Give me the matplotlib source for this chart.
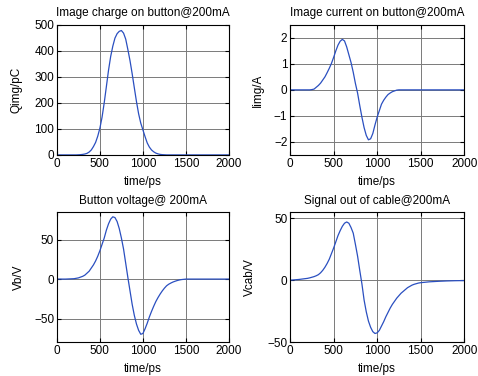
# Four panels: image charge, image current, button voltage and cable signal.
import matplotlib
matplotlib.use('Agg')
import matplotlib.pyplot as plt

# time axis, ps: 25 ps steps where the pulse is, 100 ps elsewhere
t = [0, 100] + list(range(200, 1500, 25)) + list(range(1500, 2001, 100))

q_img = [0, 0,
         0, 0, 0.5, 1, 2, 3.5, 6, 11, 19, 32, 48, 72,
         103, 145, 200, 262, 325, 378, 418, 449, 466, 475, 478, 468,
         445, 405, 362, 312, 258, 205, 158, 122, 96, 70, 46, 30,
         19, 12, 7, 4, 2, 1, 0.5, 0, 0, 0, 0, 0,
         0, 0, 0, 0,
         0, 0, 0, 0, 0, 0]

i_img = [0, 0,
         0, 0, 0.01, 0.03, 0.1, 0.17, 0.26, 0.38, 0.5, 0.66, 0.83, 1.02,
         1.25, 1.5, 1.72, 1.87, 1.94, 1.88, 1.65, 1.35, 1.05, 0.68, 0.25, -0.12,
         -0.6, -1.05, -1.45, -1.75, -1.92, -1.88, -1.68, -1.35, -1.05, -0.8, -0.55, -0.4,
         -0.28, -0.18, -0.12, -0.07, -0.04, -0.01, 0, 0, 0, 0, 0, 0,
         0, 0, 0, 0,
         0, 0, 0, 0, 0, 0]

v_b = [0, 0,
       0.5, 1, 1.5, 2.5, 3.5, 5, 7.5, 10, 14, 18, 23, 29,
       36, 44, 52, 62, 70, 76, 79, 78, 73, 64, 52, 38,
       20, 2, -15, -32, -46, -57, -65, -70, -69, -63, -56, -48,
       -41, -34.5, -28.5, -23.5, -19, -15, -11.5, -8.5, -6.5, -5, -3.7, -2.7,
       -1.8, -1.1, -0.6, -0.3,
       0, 0, 0, 0, 0, 0]

v_cab = [0, 0.6,
         1.5, 1.9, 2.4, 2.9, 3.6, 4.5, 6, 8, 10.5, 13.5, 17, 21.5,
         26, 31, 36, 40, 43.5, 46, 47, 46, 42.5, 38, 29, 19.5,
         8, -3, -16, -25.5, -33, -38, -41.5, -43, -42.5, -40.5, -37, -33.5,
         -29.5, -26, -22.5, -19.5, -17, -14.5, -12.5, -10.5, -9, -7.5, -6, -5,
         -4, -3.3, -2.8, -2.3,
         -2, -1.3, -0.9, -0.6, -0.4, -0.3]

titles = ['Image charge on button@200mA', 'Image current on button@200mA',
          'Button voltage@ 200mA', 'Signal out of cable@200mA']
ylabels = ['Qimg/pC', 'Iimg/A', 'Vb/V', 'Vcab/V']
ylims = [(0, 500), (-2.5, 2.5), (-80, 85), (-50, 55)]
yticks = [[0, 100, 200, 300, 400, 500], [-2, -1, 0, 1, 2], [-50, 0, 50], [-50, 0, 50]]
xticks = [0, 500, 1000, 1500, 2000]


def draw_panel(ax, y, title, ylabel, ylim, yt, ylab_x):
    ax.plot(t, y, color='#2a4fc0', lw=0.9)
    ax.set_xlim(0, 2000)
    ax.set_ylim(*ylim)
    ax.set_xticks(xticks)
    ax.set_yticks(yt)
    ax.set_title(title, fontsize=8.5, pad=6)
    ax.set_xlabel('time/ps', fontsize=8.5, labelpad=4.5)
    ax.set_ylabel(ylabel, fontsize=8.5)
    # MATLAB puts the y label just left of the widest tick label
    ax.yaxis.set_label_coords(ylab_x, 0.5)
    ax.grid(True, color='#7a7a7a', lw=0.7)
    ax.tick_params(direction='in', top=True, right=True, length=3, labelsize=8.5, pad=2)
    for s in ax.spines.values():
        s.set_linewidth(0.8)


def main():
    plt.rcParams['font.family'] = ['Liberation Sans', 'DejaVu Sans']
    fig = plt.figure(figsize=(4.78, 3.76), dpi=100)
    # axes boxes, in figure fractions
    boxes = [[0.119, 0.588, 0.360, 0.346],
             [0.607, 0.588, 0.364, 0.346],
             [0.119, 0.090, 0.360, 0.346],
             [0.607, 0.090, 0.364, 0.346]]
    ylab_xs = [-0.20, -0.15, -0.186, -0.194]
    data = [q_img, i_img, v_b, v_cab]
    for i in range(4):
        ax = fig.add_axes(boxes[i])
        draw_panel(ax, data[i], titles[i], ylabels[i], ylims[i], yticks[i], ylab_xs[i])
    fig.savefig('out.png', dpi=100)


if __name__ == '__main__':
    main()
